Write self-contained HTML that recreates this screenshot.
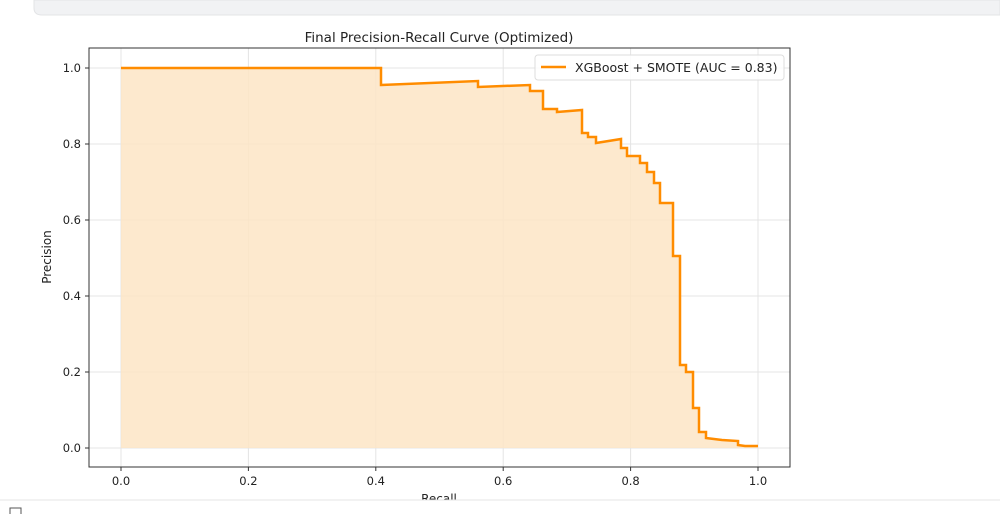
<!DOCTYPE html>
<html><head><meta charset="utf-8"><style>
body{margin:0;width:1000px;height:514px;overflow:hidden;background:#fff;font-family:"DejaVu Sans","Liberation Sans",sans-serif;}
</style></head><body>
<svg width="1000" height="514" xmlns="http://www.w3.org/2000/svg" font-family="DejaVu Sans, Liberation Sans, sans-serif">
<path d="M34 0 H1000 V15 H42 Q34 15 34 8 Z" fill="#f1f2f4" stroke="#e3e4e6"/>
<text x="439" y="42" font-size="13.5" text-anchor="middle" fill="#222">Final Precision-Recall Curve (Optimized)</text>
<g stroke="#e4e4e4" stroke-width="1">
<line x1="121" y1="48" x2="121" y2="467"/><line x1="248.4" y1="48" x2="248.4" y2="467"/><line x1="375.8" y1="48" x2="375.8" y2="467"/><line x1="503.2" y1="48" x2="503.2" y2="467"/><line x1="630.6" y1="48" x2="630.6" y2="467"/><line x1="758" y1="48" x2="758" y2="467"/>
<line x1="89" y1="68" x2="790" y2="68"/><line x1="89" y1="144" x2="790" y2="144"/><line x1="89" y1="220" x2="790" y2="220"/><line x1="89" y1="296" x2="790" y2="296"/><line x1="89" y1="372" x2="790" y2="372"/><line x1="89" y1="448" x2="790" y2="448"/>
</g>
<path d="M121 448 V68 H381 V85 L478 81 V87 L530 85 V91 H543 V109 H557 V112 L582 110 V133 H588 V137 H596 V143 L621 139 V148 H627 V156 H640 V163 H647 V172 H654 V183 H660 V203 H673 V256 H680 V365 H686 V372 H693 V408 H699 V432 H706 V438 L722 440 L738 441 V445 L745 446 H758 V448 Z" fill="#fde5c6" fill-opacity="0.85"/>
<path d="M121 68 H381 V85 L478 81 V87 L530 85 V91 H543 V109 H557 V112 L582 110 V133 H588 V137 H596 V143 L621 139 V148 H627 V156 H640 V163 H647 V172 H654 V183 H660 V203 H673 V256 H680 V365 H686 V372 H693 V408 H699 V432 H706 V438 L722 440 L738 441 V445 L745 446 H758" fill="none" stroke="#ff8c00" stroke-width="2.5"/>
<rect x="89" y="48" width="701" height="419" fill="none" stroke="#333" stroke-width="1"/>
<g stroke="#333"><line x1="121" y1="467" x2="121" y2="471"/><line x1="248.4" y1="467" x2="248.4" y2="471"/><line x1="375.8" y1="467" x2="375.8" y2="471"/><line x1="503.2" y1="467" x2="503.2" y2="471"/><line x1="630.6" y1="467" x2="630.6" y2="471"/><line x1="758" y1="467" x2="758" y2="471"/>
<line x1="85" y1="68" x2="89" y2="68"/><line x1="85" y1="144" x2="89" y2="144"/><line x1="85" y1="220" x2="89" y2="220"/><line x1="85" y1="296" x2="89" y2="296"/><line x1="85" y1="372" x2="89" y2="372"/><line x1="85" y1="448" x2="89" y2="448"/></g>
<g font-size="11.5" fill="#222" text-anchor="middle"><text x="121" y="485">0.0</text><text x="248.4" y="485">0.2</text><text x="375.8" y="485">0.4</text><text x="503.2" y="485">0.6</text><text x="630.6" y="485">0.8</text><text x="758" y="485">1.0</text></g>
<g font-size="11.5" fill="#222" text-anchor="end"><text x="81" y="72">1.0</text><text x="81" y="148">0.8</text><text x="81" y="224">0.6</text><text x="81" y="300">0.4</text><text x="81" y="376">0.2</text><text x="81" y="452">0.0</text></g>
<text x="439" y="503" font-size="12" text-anchor="middle" fill="#222">Recall</text>
<text transform="translate(51 257) rotate(-90)" font-size="12" text-anchor="middle" fill="#222">Precision</text>
<rect x="535" y="55" width="249" height="25" rx="3" fill="#fff" fill-opacity="0.85" stroke="#ddd"/>
<line x1="541" y1="67" x2="566" y2="67" stroke="#ff8c00" stroke-width="2.5"/>
<text x="575" y="72" font-size="12.5" fill="#222">XGBoost + SMOTE (AUC = 0.83)</text>
<rect x="0" y="500" width="1000" height="14" fill="#fff"/>
<line x1="0" y1="500" x2="1000" y2="500" stroke="#e5e5e5"/>
<rect x="10" y="508" width="11" height="11" fill="none" stroke="#555"/>
</svg>
</body></html>
